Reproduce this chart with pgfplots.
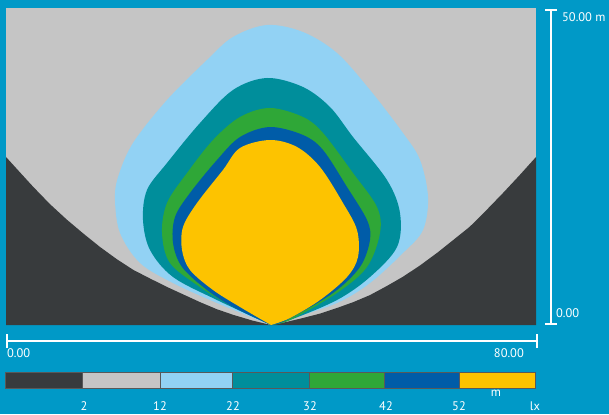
\documentclass[border=0pt]{standalone}
\usepackage{pgfplots}
\pgfplotsset{compat=1.18}
\usepackage{fontspec}
\setmainfont{PT Sans}

\definecolor{bgblue}{HTML}{0099C7}
\definecolor{dark}{HTML}{383B3D}
\definecolor{lgrey}{HTML}{C5C5C5}
\definecolor{lblue}{HTML}{92D2F4}
\definecolor{teal2}{HTML}{008E9B}
\definecolor{green2}{HTML}{2FA737}
\definecolor{blue2}{HTML}{005CA8}
\definecolor{yellow2}{HTML}{FDC300}

\begin{document}
\begin{tikzpicture}[x=1bp,y=1bp]
\fill[bgblue] (0,0) rectangle (609,414);
\useasboundingbox (0,0) rectangle (609,414);

\begin{axis}[
    at={(6bp,89bp)}, anchor=origin,
    width=530bp, height=317bp, scale only axis,
    xmin=0, xmax=80, ymin=0, ymax=50,
    hide axis, clip=true,
]
% background level (< 2 lx)
\addplot[fill=lgrey, draw=none] coordinates {(0,0) (80,0) (80,50) (0,50)} -- cycle;

% dark zone
\addplot[fill=dark, draw=none] coordinates {
(0,0) (0,26.5) (2,24.2) (4.1,21.8) (6.6,19.1) (9.2,16.6) (11.7,14.4) (14.2,12.3)
(16.7,10.4) (19.2,8.7) (21.8,7.3) (24.3,6.0) (26.8,4.8) (29.3,3.6) (31.8,2.5)
(34.3,1.6) (37.2,0.7) (40,0) (42.4,0.5) (44.8,1.1) (47.4,1.8) (50,2.7) (52.4,3.6)
(54.9,4.7) (57.4,6.1) (59.9,7.6) (62.5,9.4) (65.1,11.4) (67.5,13.4) (70,15.5)
(72.5,18.1) (75,20.8) (77.5,23.6) (80,26.5) (80,0)
} -- cycle;

% 2 .. 12 lx
\addplot[fill=lblue, draw=none, smooth, tension=0.55] coordinates {
(40,0) (31.85,3.47) (25.21,6.62) (20.23,9.78) (17.21,14.51) (16.45,19.72)
(16.91,23.34) (19.17,28.71) (24.30,35.49) (30.34,41.80) (34.26,45.43)
(39.40,47.32) (44.83,46.21) (49.96,42.90) (54.94,37.07) (59.92,30.28)
(62.49,26.03) (63.70,20.19) (62.94,14.98) (59.92,11.36) (54.94,6.62)
(49.96,3.47) (42.42,0.79) (40,0)
} -- cycle;

% 22 .. 32 lx
\addplot[fill=teal2, draw=none, smooth, tension=0.55] coordinates {
(40,0) (31.85,3.94) (25.21,7.57) (21.74,11.83) (20.68,16.56) (21.28,21.29)
(24.30,25.55) (29.28,31.86) (34.26,37.07) (39.40,38.96) (44.83,37.54)
(48.91,34.38) (52.38,29.65) (57.51,22.87) (59.47,17.67) (59.02,12.30)
(54.94,7.57) (49.96,3.94) (42.87,0.79) (40,0)
} -- cycle;

% 32 .. 42 lx
\addplot[fill=green2, draw=none, smooth, tension=0.55] coordinates {
(40,0) (33.81,3.15) (29.28,5.99) (24.75,9.78) (23.55,14.51) (24.30,19.24)
(27.32,23.97) (31.25,29.18) (35.32,32.81) (39.85,34.23) (44.83,32.81)
(47.85,30.28) (52.38,23.97) (56.00,18.61) (56.45,14.51) (54.49,9.15)
(49.96,5.05) (42.87,0.79) (40,0)
} -- cycle;

% 42 .. 52 lx
\addplot[fill=blue2, draw=none, smooth, tension=0.55] coordinates {
(40,0) (34.57,2.68) (30.34,5.52) (26.57,9.15) (25.21,12.93) (25.51,17.03)
(27.77,20.82) (31.85,26.03) (35.32,29.65) (39.85,31.23) (44.83,29.97)
(47.85,27.60) (51.47,21.77) (54.49,16.56) (54.94,13.41) (53.43,9.15)
(49.36,5.05) (42.42,0.79) (40,0)
} -- cycle;

% > 52 lx
\addplot[fill=yellow2, draw=none, smooth, tension=0.55] coordinates {
(40,0) (35.32,2.84) (31.25,5.52) (27.77,8.68) (26.57,11.83) (26.72,15.46)
(28.83,19.24) (32.75,24.45) (35.32,27.92) (39.85,29.18) (43.92,28.08)
(47.40,24.92) (50.87,19.24) (52.98,14.98) (53.13,10.73) (51.47,7.57)
(47.40,3.94) (42.87,1.10) (40,0)
} -- cycle;
\end{axis}

% scale bars
\draw[white, line width=1.6bp] (7,73) -- (537,73);
\draw[white, line width=1.6bp] (7,66) -- (7,80) (537,66) -- (537,80);
\draw[white, line width=1.6bp] (551,90) -- (551,404);
\draw[white, line width=1.6bp] (545,90) -- (557,90) (545,404) -- (557,404);
\begin{scope}[every node/.style={text=white, font=\fontsize{12.5}{14}\selectfont, inner sep=0pt}]
\node[anchor=west] at (7,61) {0.00};
\node[anchor=east] at (524,61) {80.00};
\node[anchor=west] at (562,397) {50.00 m};
\node[anchor=west] at (556,101) {0.00};
\end{scope}

% colour legend
\fill[dark] (5,26) rectangle (82,42);
\fill[lgrey] (82,26) rectangle (160,42);
\fill[lblue] (160,26) rectangle (232,42);
\fill[teal2] (232,26) rectangle (309,42);
\fill[green2] (309,26) rectangle (384,42);
\fill[blue2] (384,26) rectangle (459,42);
\fill[yellow2] (459,26) rectangle (535,42);
\draw[black!65, line width=0.8bp] (5,26) rectangle (535,42);
\foreach \b in {82,160,232,309,384,459}
  \draw[black!65, line width=0.8bp] (\b,26) -- (\b,42);
\begin{scope}[every node/.style={text=white, font=\fontsize{12.5}{14}\selectfont, inner sep=0pt}]
\node at (84,8) {2};
\node at (160,8) {12};
\node at (233,8) {22};
\node at (310,8) {32};
\node at (386,8) {42};
\node at (459,8) {52};
\node at (535,8) {lx};
\node at (496,21) {m};
\end{scope}
\end{tikzpicture}
\end{document}
